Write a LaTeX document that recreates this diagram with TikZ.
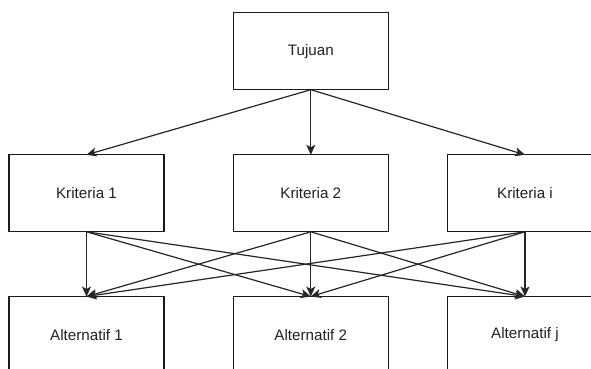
\documentclass[tikz,border=0pt]{standalone}
\usepackage{fontspec}
\setmainfont{Liberation Sans}
\usetikzlibrary{arrows.meta}
\definecolor{txt}{HTML}{222222}
\tikzset{
  box/.style={draw=black!90, line width=1.2pt, fill=white, rectangle, inner sep=0pt, outer sep=0pt,
    minimum width=155pt, minimum height=77pt, text=txt,
    font=\fontsize{15.2}{18}\selectfont},
  link/.style={draw=black!85, line width=1.2pt, -{Stealth[length=10pt,width=9pt,inset=2.5pt]}}
}
\begin{document}
\begin{tikzpicture}[x=1pt,y=-1pt]
\useasboundingbox (0,0) rectangle (591,369);
\clip (0,0) rectangle (591,369);
\fill[white] (0,0) rectangle (591,369);
\node[box] (t) at (310.8,51.2) {Tujuan};
\node[box] (k1) at (86.5,193.3) {Kriteria 1};
\node[box] (k2) at (310.8,193.3) {Kriteria 2};
\node[box] (ki) at (525,193.3) {Kriteria i};
\node[box] (a1) at (86.5,335) {Alternatif 1};
\node[box] (a2) at (310.8,335) {Alternatif 2};
\node[box] (aj) at (525,335) {Alternatif j};
\foreach \k in {k1,k2,ki}{
  \draw[link] (t.south) -- (\k.north);
}
\foreach \k in {k1,k2,ki}{
  \foreach \a in {a1,a2,aj}{
    \draw[link] (\k.south) -- (\a.north);
  }
}
\end{tikzpicture}
\end{document}
